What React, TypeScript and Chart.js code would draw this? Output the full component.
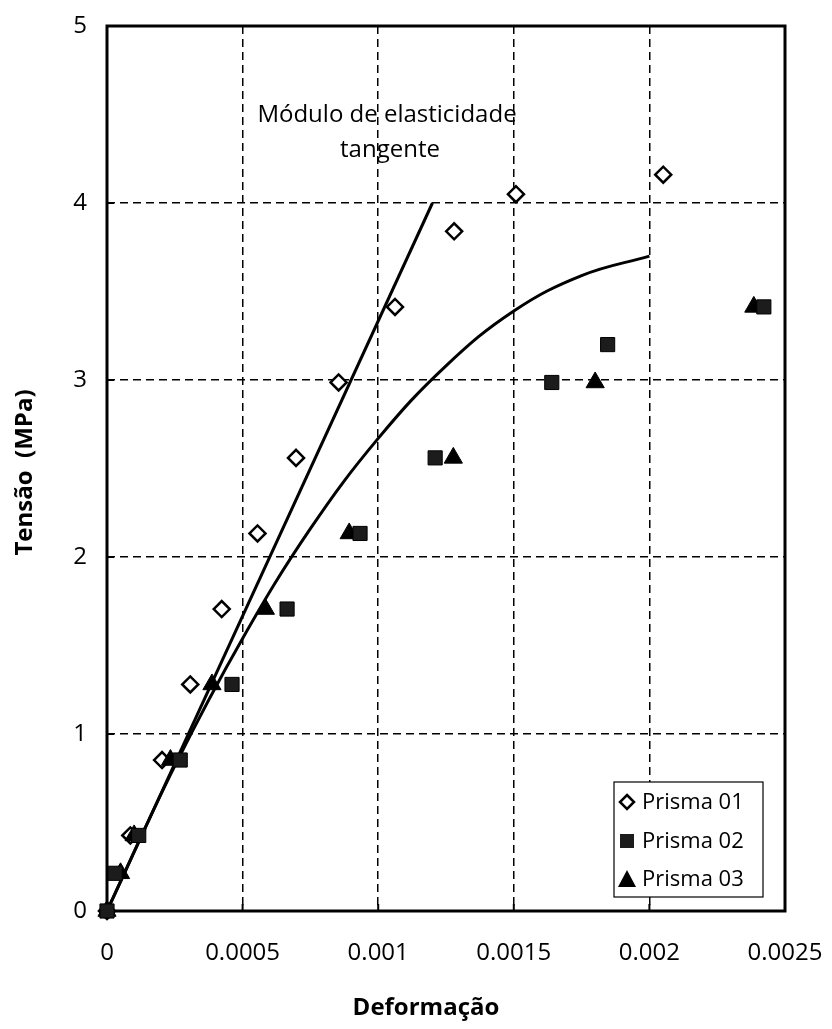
import React, { useEffect, useRef } from 'react';
import { Chart, registerables } from 'chart.js';

Chart.register(...registerables);

// ---- Data ----
const prisma01X = [0, 0.000086, 0.000203, 0.000307, 0.000423, 0.000555, 0.000697, 0.000854, 0.001062, 0.00128, 0.001508, 0.002051];
const prisma01Y = [0, 0.427, 0.853, 1.28, 1.706, 2.133, 2.56, 2.986, 3.413, 3.84, 4.05, 4.16];

const prisma02X = [0, 0.00003, 0.000117, 0.00027, 0.000461, 0.000664, 0.000933, 0.00121, 0.00164, 0.001846, 0.002422];
const prisma02Y = [0, 0.213, 0.427, 0.853, 1.28, 1.706, 2.133, 2.56, 2.986, 3.2, 3.413];

const prisma03X = [0, 0.00005, 0.0001, 0.000234, 0.000387, 0.000584, 0.000893, 0.001277, 0.0018, 0.002385];
const prisma03Y = [0, 0.213, 0.427, 0.853, 1.28, 1.706, 2.133, 2.56, 2.986, 3.413];

const tangentX = [0, 0.0012];
const tangentY = [0, 4.0];

const curveX = [0, 0.00025, 0.0005, 0.00075, 0.001, 0.00125, 0.0015, 0.00175, 0.002];
const curveY = [0, 0.82, 1.54, 2.16, 2.67, 3.08, 3.39, 3.59, 3.7];

const xTicks = [0, 0.0005, 0.001, 0.0015, 0.002, 0.0025];
const xTickLabels = ['0', '0.0005', '0.001', '0.0015', '0.002', '0.0025'];
const yTicks = [0, 1, 2, 3, 4, 5];
const yTickLabels = ['0', '1', '2', '3', '4', '5'];

const seriesNames = ['Prisma 01', 'Prisma 02', 'Prisma 03'];
const xTitle = 'Deformação';
const yTitle = 'Tensão  (MPa)';
const noteLines = ['Módulo de elasticidade', 'tangente'];

const FONT = '"Open Sans", "DejaVu Sans", sans-serif';

const zip = (xs: number[], ys: number[]) => xs.map((x, i) => ({ x, y: ys[i] }));

function drawDiamond(ctx: CanvasRenderingContext2D, x: number, y: number, r: number) {
  ctx.beginPath();
  ctx.moveTo(x, y - r);
  ctx.lineTo(x + r, y);
  ctx.lineTo(x, y + r);
  ctx.lineTo(x - r, y);
  ctx.closePath();
  ctx.fillStyle = '#fff';
  ctx.fill();
  ctx.lineWidth = 2.5;
  ctx.strokeStyle = '#000';
  ctx.stroke();
}

const decor = {
  id: 'decor',
  beforeDatasetsDraw(chart: any) {
    const { ctx, chartArea } = chart;
    const { left, top, right, bottom } = chartArea;
    const xs = chart.scales.x;
    const ys = chart.scales.y;
    ctx.save();
    ctx.strokeStyle = '#000';
    ctx.lineWidth = 2;
    ctx.setLineDash([]);
    yTicks.forEach((v) => {
      const py = ys.getPixelForValue(v);
      ctx.beginPath();
      ctx.moveTo(left, py);
      ctx.lineTo(left + 7, py);
      ctx.stroke();
    });
    xTicks.forEach((v) => {
      const px = xs.getPixelForValue(v);
      ctx.beginPath();
      ctx.moveTo(px, bottom);
      ctx.lineTo(px, bottom - 7);
      ctx.stroke();
    });
    ctx.lineWidth = 3;
    ctx.strokeRect(left, top, right - left, bottom - top);

    // annotation text
    ctx.fillStyle = '#000';
    ctx.font = `24px ${FONT}`;
    ctx.textAlign = 'center';
    ctx.textBaseline = 'middle';
    ctx.fillText(noteLines[0], left + 280, top + 89);
    ctx.fillText(noteLines[1], left + 283, top + 124);
    ctx.restore();
  },
  afterDatasetsDraw(chart: any) {
    const { ctx, chartArea } = chart;
    const { top, bottom } = chartArea;
    ctx.save();
    // legend
    const bx = 614, by = 782, bw = 149, bh = 115;
    ctx.fillStyle = '#fff';
    ctx.fillRect(bx, by, bw, bh);
    ctx.strokeStyle = '#000';
    ctx.lineWidth = 1.2;
    ctx.strokeRect(bx, by, bw, bh);
    const rows = [802, 841, 879];
    drawDiamond(ctx, 627, rows[0], 7);
    ctx.fillStyle = '#1c1c1c';
    ctx.fillRect(620, rows[1] - 7, 14, 14);
    ctx.beginPath();
    ctx.moveTo(627, rows[2] - 9);
    ctx.lineTo(636, rows[2] + 8);
    ctx.lineTo(618, rows[2] + 8);
    ctx.closePath();
    ctx.fillStyle = '#000';
    ctx.fill();
    ctx.font = `22px ${FONT}`;
    ctx.textAlign = 'left';
    ctx.textBaseline = 'middle';
    ctx.fillStyle = '#000';
    seriesNames.forEach((n, i) => ctx.fillText(n, 642, rows[i] + 1));

    // axis titles
    ctx.font = `bold 24px ${FONT}`;
    ctx.textAlign = 'center';
    ctx.textBaseline = 'middle';
    ctx.fillText(xTitle, 426, 1008);
    ctx.translate(25, (top + bottom) / 2 + 4);
    ctx.rotate(-Math.PI / 2);
    ctx.fillText(yTitle, 0, 0);
    ctx.restore();
  },
};

export default function App() {
  const ref = useRef<HTMLCanvasElement>(null);
  useEffect(() => {
    if (!ref.current) return;
    const chart = new Chart(ref.current, {
      type: 'scatter',
      data: {
        datasets: [
          {
            label: seriesNames[0],
            data: zip(prisma01X, prisma01Y),
            pointStyle: 'rectRot',
            pointRadius: 8,
            pointBorderWidth: 2.5,
            pointBackgroundColor: '#fff',
            pointBorderColor: '#000',
            showLine: false,
            clip: false,
            order: 2,
          },
          {
            label: seriesNames[1],
            data: zip(prisma02X, prisma02Y),
            pointStyle: 'rect',
            pointRadius: 10,
            pointBorderWidth: 1,
            pointBackgroundColor: '#1c1c1c',
            pointBorderColor: '#000',
            showLine: false,
            clip: false,
            order: 0,
          },
          {
            label: seriesNames[2],
            data: zip(prisma03X, prisma03Y),
            pointStyle: 'triangle',
            pointRadius: 10.5,
            pointBorderWidth: 1,
            pointBackgroundColor: '#000',
            pointBorderColor: '#000',
            showLine: false,
            clip: false,
            order: 1,
          },
          {
            label: 'tangente',
            data: zip(tangentX, tangentY),
            showLine: true,
            pointRadius: 0,
            borderColor: '#000',
            borderWidth: 3,
            order: 3,
          },
          {
            label: 'curva',
            data: zip(curveX, curveY),
            showLine: true,
            pointRadius: 0,
            borderColor: '#000',
            borderWidth: 3,
            tension: 0.4,
            order: 4,
          },
        ],
      },
      options: {
        animation: false,
        responsive: false,
        devicePixelRatio: 1,
        layout: { padding: { top: 26, right: 47, left: 0, bottom: 0 } },
        plugins: {
          legend: { display: false },
          tooltip: { enabled: false },
        },
        scales: {
          x: {
            type: 'linear',
            min: 0,
            max: 0.0025,
            afterFit: (s: any) => {
              s.height = 118;
              s.paddingLeft = 0;
              s.paddingRight = 0;
            },
            afterBuildTicks: (s: any) => {
              s.ticks = xTicks.map((v) => ({ value: v }));
            },
            ticks: {
              color: '#000',
              font: { family: FONT, size: 24 },
              padding: 28,
              maxRotation: 0,
              autoSkip: false,
              callback: (v: any) => {
                const i = xTicks.findIndex((t) => Math.abs(t - v) < 1e-9);
                return i >= 0 ? xTickLabels[i] : '';
              },
            },
            grid: { color: '#000', lineWidth: 1.5, drawTicks: false },
            border: { display: false, dash: [8, 5] },
          },
          y: {
            type: 'linear',
            min: 0,
            max: 5,
            afterFit: (s: any) => {
              s.width = 107;
              s.paddingTop = 0;
              s.paddingBottom = 0;
            },
            afterBuildTicks: (s: any) => {
              s.ticks = yTicks.map((v) => ({ value: v }));
            },
            ticks: {
              color: '#000',
              font: { family: FONT, size: 24 },
              padding: 20,
              callback: (v: any) => {
                const i = yTicks.indexOf(v);
                return i >= 0 ? yTickLabels[i] : '';
              },
            },
            grid: { color: '#000', lineWidth: 1.5, drawTicks: false },
            border: { display: false, dash: [8, 5] },
          },
        },
      },
      plugins: [decor],
    } as any);
    return () => chart.destroy();
  }, []);
  return (
    <div style={{ position: 'absolute', left: 0, top: 0, width: 832, height: 1029, background: '#fff' }}>
      <canvas ref={ref} width={832} height={1029} style={{ width: 832, height: 1029, display: 'block' }} />
    </div>
  );
}
